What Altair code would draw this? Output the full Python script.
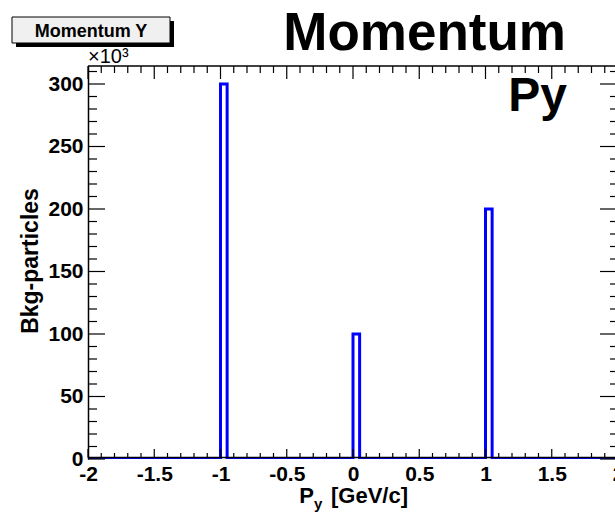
import altair as alt
import pandas as pd

# ---- data ----
bin_lo = [-1.0, 0.0, 1.0]          # left edge of filled bins (GeV/c)
bin_w = 0.05                        # bin width
counts = [300000, 100000, 200000]   # entries per bin

x_major = [-2, -1.5, -1, -0.5, 0, 0.5, 1, 1.5, 2]
y_major = [0, 50000, 100000, 150000, 200000, 250000, 300000]
x_minor = [round(-2 + 0.1 * i, 2) for i in range(41) if i % 5 != 0]
y_minor = [10000 * i for i in range(32) if i % 5 != 0]

X_MIN, X_MAX = -2.0, 2.0
Y_MAX = 314400

W, H = 527, 393
XR = 530  # pixel range for x (right frame falls outside the picture)

# step outline of the histogram
px, py = [X_MIN], [0]
for lo, c in zip(bin_lo, counts):
    hi = lo + bin_w
    px += [lo, lo, hi, hi]
    py += [0, c, c, 0]
px.append(X_MAX)
py.append(0)
hist = pd.DataFrame({"x": px, "y": py, "o": list(range(len(px)))})

xs = alt.Scale(domain=[X_MIN, X_MAX], range=[0, XR], nice=False, zero=False)
ys = alt.Scale(domain=[0, Y_MAX], nice=False, zero=False)

FONT = "Liberation Sans"

base_x_axis = alt.Axis(values=x_major, ticks=False, domain=False, grid=False,
                       labelFont=FONT, labelFontWeight="bold", labelFontSize=21,
                       labelColor="black", labelPadding=4, title=None,
                       labelFlush=False, labelOverlap=False,
                       labelExpr="datum.value + ''")
base_y_axis = alt.Axis(values=y_major, ticks=False, domain=True, domainColor="black",
                       domainWidth=1.5, grid=False,
                       labelFont=FONT, labelFontWeight="bold", labelFontSize=21,
                       labelColor="black", labelPadding=5, title=None,
                       labelFlush=False, labelOverlap=False,
                       labelExpr="(datum.value / 1000) + ''")

line = alt.Chart(hist).mark_line(color="#0000ff", strokeWidth=3, strokeJoin="miter",
                                 clip=True).encode(
    x=alt.X("x:Q", scale=xs, axis=base_x_axis),
    y=alt.Y("y:Q", scale=ys, axis=base_y_axis),
    order="o:Q",
)

# frame: bottom and top lines
frame_bottom = alt.Chart(pd.DataFrame({"a": [0]})).mark_rule(
    color="black", strokeWidth=1.5, yOffset=-1.5).encode(
    y=alt.datum(0, scale=ys), x=alt.value(0), x2=alt.value(XR))
frame_top = alt.Chart(pd.DataFrame({"a": [0]})).mark_rule(
    color="black", strokeWidth=1.5).encode(
    y=alt.value(0), x=alt.value(0), x2=alt.value(XR))

def xticks(vals, y1, y2):
    return alt.Chart(pd.DataFrame({"v": vals})).mark_rule(color="black", strokeWidth=1.2).encode(
        x=alt.X("v:Q", scale=xs), y=alt.value(y1), y2=alt.value(y2))

def yticks(vals, x1, x2):
    return alt.Chart(pd.DataFrame({"v": vals})).mark_rule(color="black", strokeWidth=1.2).encode(
        y=alt.Y("v:Q", scale=ys), x=alt.value(x1), x2=alt.value(x2))

ticks = [
    xticks(x_major, H - 1.5, H - 10), xticks(x_minor, H - 1.5, H - 6),
    xticks(x_major, 0, 13), xticks(x_minor, 0, 7),
    yticks(y_major, 0, 17), yticks(y_minor, 0, 9),
    yticks(y_major, XR, XR - 18), yticks(y_minor, XR, XR - 8),
]

def text(t, x, y, size, weight="bold", align="left", angle=0, baseline="alphabetic"):
    return alt.Chart(pd.DataFrame({"t": [t]})).mark_text(
        font=FONT, fontSize=size, fontWeight=weight, align=align, baseline=baseline,
        angle=angle, color="black").encode(
        text="t:N", x=alt.value(x), y=alt.value(y))

# stat/title box "Momentum Y"
shadow = alt.Chart(pd.DataFrame({"a": [0]})).mark_rect(color="black").encode(
    x=alt.value(12 - 88 + 4), x2=alt.value(170 - 88 + 4),
    y=alt.value(17 - 66 + 4), y2=alt.value(43 - 66 + 4))
box = alt.Chart(pd.DataFrame({"a": [0]})).mark_rect(
    fill="#f0f0f0", stroke="black", strokeWidth=1).encode(
    x=alt.value(12 - 88), x2=alt.value(170 - 88),
    y=alt.value(17 - 66), y2=alt.value(43 - 66))

texts = [
    text("Momentum Y", 91 - 88, 37 - 66, 18, align="center"),
    text("×10³", 0, 63 - 66, 20, weight="normal"),
    text("Momentum", 566 - 88, 50 - 66, 53, align="right"),
    text("Py", 567 - 88, 111 - 66, 48, align="right"),
    text("Bkg-particles", 31 - 88, 261 - 66, 23, angle=270, align="center", baseline="middle"),
    text("P", 314 - 88, 503 - 66, 22, align="right"),
    text("y", 314 - 88, 509 - 66, 15, align="left"),
    text("[GeV/c]", 331 - 88, 503 - 66, 22, align="left"),
]

chart = alt.layer(line, frame_bottom, frame_top, *ticks, shadow, box, *texts).properties(
    width=W, height=H,
    autosize=alt.AutoSizeParams(type="none"),
    padding={"left": 88, "top": 66, "right": 0, "bottom": 56},
    background="white",
).configure_view(stroke=None)

chart.save("out.html", embed_options={"renderer": "svg", "actions": False})
